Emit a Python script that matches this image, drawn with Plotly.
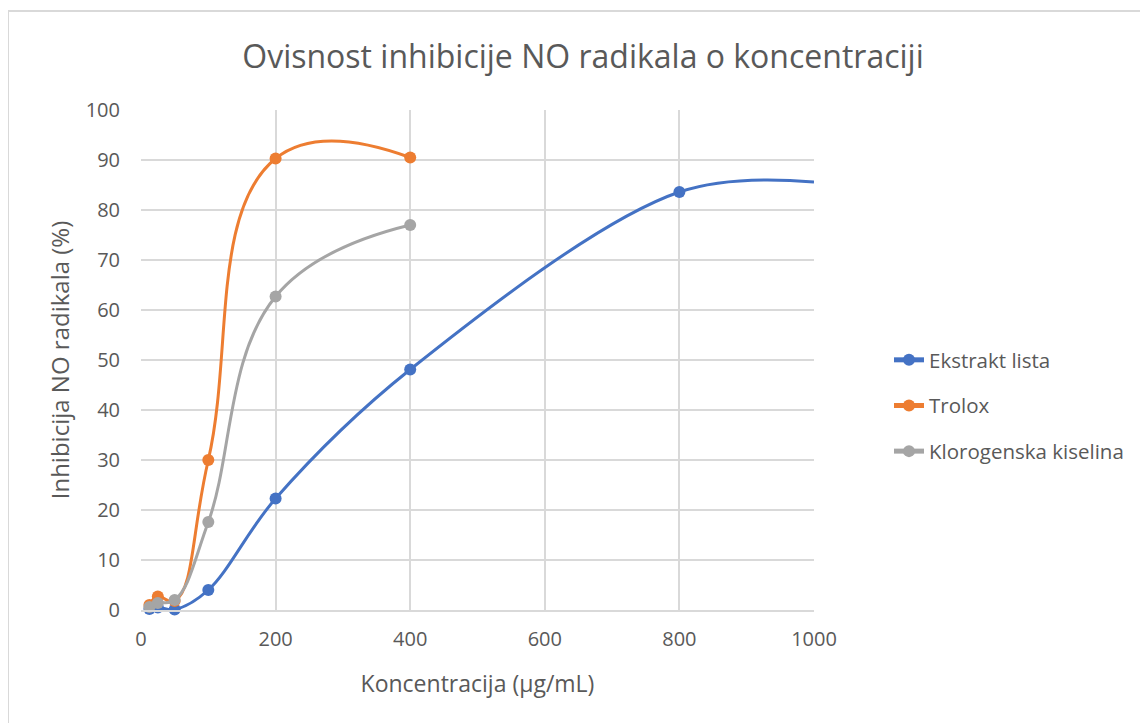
import plotly.graph_objects as go

conc = [12.5, 25, 50, 100, 200, 400]
conc_ekstrakt = [12.5, 25, 50, 100, 200, 400, 800, 1000]
ekstrakt = [0.2, 0.5, 0.1, 4.0, 22.3, 48.1, 83.6, 85.6]
trolox = [1.0, 2.7, 1.8, 30.0, 90.3, 90.5]
klorogenska = [0.6, 1.4, 2.0, 17.6, 62.7, 77.0]

names = ["Ekstrakt lista", "Trolox", "Klorogenska kiselina"]
colors = ["#4472C4", "#ED7D31", "#A5A5A5"]
smooth = [1.0, 1.3, 1.2]

FONT = "Open Sans"
GREY = "#595959"
L, T, PW, PH = 133, 102, 673, 500

fig = go.Figure()
for i, (xs, ys) in enumerate([(conc_ekstrakt, ekstrakt), (conc, trolox), (conc, klorogenska)]):
    fig.add_trace(go.Scatter(
        x=xs, y=ys, name=names[i], legendgroup=names[i],
        mode="lines+markers", cliponaxis=False,
        line=dict(color=colors[i], width=3, shape="spline", smoothing=smooth[i]),
        marker=dict(color=colors[i], size=[12 if x < 1000 else 0 for x in xs],
                    opacity=1, line=dict(width=0)),
    ))

fig.update_layout(
    width=1148, height=723,
    paper_bgcolor="white", plot_bgcolor="white",
    margin=dict(l=L, r=1148 - L - PW, t=T, b=723 - T - PH),
    title=dict(text="Ovisnost inhibicije NO radikala o koncentraciji",
               x=575 / 1148, xanchor="center", y=1 - 49 / 723, yanchor="middle",
               font=dict(family=FONT, size=32, color=GREY)),
    font=dict(family=FONT, color=GREY),
    legend=dict(x=(881 - L) / PW, xanchor="left", y=(T + PH - 332) / PH, yanchor="top",
                font=dict(family=FONT, size=20.5, color=GREY), tracegroupgap=16,
                bgcolor="rgba(0,0,0,0)", itemsizing="constant"),
    showlegend=True,
    shapes=[dict(type="rect", xref="paper", yref="paper",
                 x0=(0 - L) / PW, x1=(1160 - L) / PW,
                 y0=-0.5, y1=(T + PH - 3) / PH,
                 line=dict(color="#D9D9D9", width=2), fillcolor="rgba(0,0,0,0)", layer="below")],
)
fig.update_xaxes(range=[0, 1000], tickvals=[0, 200, 400, 600, 800, 1000],
                 showgrid=True, gridcolor="#D9D9D9", gridwidth=1.5,
                 showline=True, linecolor="#D9D9D9", linewidth=1.5, mirror=False,
                 zeroline=False, ticks="", ticklen=0, ticklabelstandoff=10,
                 tickfont=dict(family=FONT, size=20, color=GREY),
                 title=dict(text="Koncentracija (µg/mL)", font=dict(family=FONT, size=23, color=GREY), standoff=25))
fig.update_yaxes(range=[0, 100], dtick=10,
                 showgrid=True, gridcolor="#D9D9D9", gridwidth=1.5,
                 showline=False, zeroline=False, ticks="", ticklabelstandoff=20,
                 tickfont=dict(family=FONT, size=20, color=GREY),
                 title=dict(text="Inhibicija NO radikala (%)", font=dict(family=FONT, size=24, color=GREY), standoff=9))

fig.write_html("out.html")
